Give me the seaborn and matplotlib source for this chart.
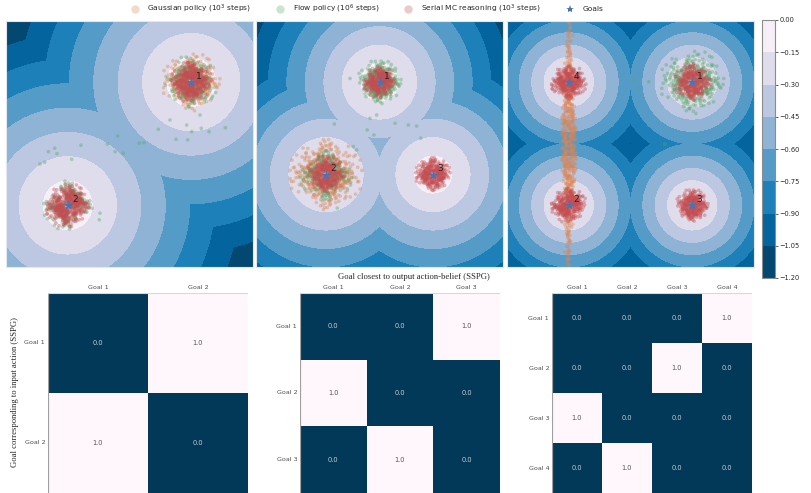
import numpy as np
import pandas as pd
import seaborn as sns
import matplotlib.pyplot as plt
from matplotlib.lines import Line2D

sns.set_theme(style="white")

# goals for the three environments (panel coords, -1..1)
goals_p1 = [(0.5, 0.5), (-0.5, -0.5)]
goals_p2 = [(0.0, 0.5), (-0.433, -0.25), (0.433, -0.25)]
goals_p3 = [(0.5, 0.5), (-0.5, -0.5), (0.5, -0.5), (-0.5, 0.5)]
value_scale = [0.76, 1.0, 1.5]
levels = [-1.20, -1.05, -0.90, -0.75, -0.60, -0.45, -0.30, -0.15, 0.00]

# hand-typed offset pattern used for the sample clouds
base_dx = [0.12, -0.85, 1.34, -0.41, 0.67, -1.52, 0.03, 0.95, -0.27, 1.81,
           -0.63, 0.44, -1.08, 0.21, -0.19, 1.12, -0.77, 0.58, -2.05, 0.36,
           -0.52, 1.47, -0.09, 0.81, -1.29, 0.29, -0.96, 0.73, 2.11, -0.34,
           0.05, -1.66, 0.91, -0.48, 1.26, -0.14, 0.62, -0.88, 0.17, -1.37,
           1.59, -0.23, 0.39, -0.71, 0.98, -1.91, 0.26, 0.84, -0.58, 1.03,
           -0.06, -1.17, 0.52, -0.31, 1.69, -0.92, 0.15, -0.44, 0.76, -1.45,
           2.32, -0.12, 0.47, -0.67, 1.21, -0.37, 0.08, -1.02, 0.69, -0.21,
           1.41, -0.81, 0.33, -1.58, 0.86, -0.03, 0.57, -1.24, 1.09, -0.55,
           0.24, -0.99, 1.73, -0.16, 0.41, -2.21, 0.64, -0.29, 1.17, -0.74,
           0.01, 1.38, -0.46, 0.79, -1.13, 0.19, -0.61, 1.95, -0.38, 0.49]
base_dy = [-0.33, 0.71, 0.18, -1.24, 0.92, -0.07, 1.55, -0.62, 0.39, -0.15,
           -1.81, 0.26, 0.84, -0.49, 1.19, -0.91, 0.05, -1.37, 0.47, 2.03,
           0.63, -0.28, -1.06, 0.14, 1.42, -0.72, 0.31, 0.97, -0.44, -1.63,
           1.88, 0.22, -0.09, 1.08, -1.15, 0.56, -0.38, -0.81, 2.27, 0.11,
           -0.52, -1.97, 0.68, 0.35, -0.23, 1.27, -1.41, 0.82, 0.02, -0.67,
           0.44, -0.18, -1.29, 1.61, 0.09, -0.55, -0.94, 0.73, 1.33, -0.36,
           0.27, -0.77, 1.02, -1.52, -0.12, 0.59, -2.14, 0.16, -0.86, 1.74,
           -0.41, 0.88, -0.04, 0.51, 1.47, -1.09, -0.26, 0.38, -0.69, 1.13,
           -1.71, 0.21, 0.66, -0.31, -1.18, 0.94, 0.13, 1.91, -0.58, -0.03,
           0.79, -0.47, 1.23, -1.33, 0.42, -0.84, 0.57, -0.21, 1.06, -0.95]

# clouds: (center x, center y, policy, spread x, spread y, pattern variants)
clouds_p1 = [(0.5, 0.5, "gauss", 0.10, 0.10, [0, 6, 3]),
             (0.5, 0.5, "flow", 0.09, 0.09, [2, 7]),
             (-0.5, -0.5, "flow", 0.085, 0.085, [1, 4]),
             (0.5, 0.5, "mc", 0.07, 0.07, [0, 5, 7, 1]),
             (-0.5, -0.5, "mc", 0.075, 0.075, [1, 6, 3, 4])]
clouds_p2 = [(-0.433, -0.25, "gauss", 0.125, 0.125, [0, 6, 2, 5]),
             (0.0, 0.5, "flow", 0.075, 0.075, [0, 7, 3]),
             (-0.433, -0.25, "flow", 0.09, 0.09, [2, 4]),
             (0.0, 0.5, "mc", 0.055, 0.055, [1, 6, 4]),
             (-0.433, -0.25, "mc", 0.065, 0.065, [0, 7, 3]),
             (0.433, -0.25, "mc", 0.06, 0.06, [0, 6, 5])]
clouds_p3 = [(-0.5, 0.0, "gauss", 0.026, 0.46, [0, 1, 2, 3, 4]),
             (0.5, 0.5, "flow", 0.11, 0.11, [0, 6, 3]),
             (0.5, 0.5, "mc", 0.065, 0.065, [0, 7, 4]),
             (-0.5, -0.5, "mc", 0.06, 0.06, [1, 6, 5]),
             (0.5, -0.5, "mc", 0.055, 0.055, [0, 7, 3]),
             (-0.5, 0.5, "mc", 0.06, 0.06, [2, 6, 4])]

# flow samples that landed between goals
strays_p1_x = [-0.096, 0.079, 0.117, -0.180, -0.117, -0.050, -0.393, -0.587, -0.606, -0.687,
               -0.725, 0.328, 0.233, 0.377, 0.471, 0.504, 0.581, 0.644, 0.776, 0.571,
               0.463, -0.657, -0.468, -0.239, -0.245]
strays_p1_y = [0.063, 0.004, 0.009, -0.002, -0.064, -0.077, -0.012, -0.080, -0.036, -0.150,
               -0.164, 0.193, 0.117, 0.036, 0.031, 0.098, 0.126, 0.098, 0.130, 0.233,
               0.152, -0.064, -0.126, -0.563, -0.617]
strays_p2_x = [-0.366, -0.099, -0.045, 0.126, 0.233, 0.301, 0.334, -0.342, -0.077, -0.023,
               -0.239, -0.212, -0.185]
strays_p2_y = [0.160, 0.112, 0.071, 0.166, 0.152, 0.144, 0.045, -0.522, 0.206, 0.233,
               0.530, -0.023, -0.050]
strays_p3_x = [0.027, 0.054, 0.278, 0.148]
strays_p3_y = [0.517, 0.449, -0.002, 0.503]

# heatmaps: goal of input action vs goal closest to output
hm_2 = [[0.0, 1.0], [1.0, 0.0]]
hm_3 = [[0.0, 0.0, 1.0], [1.0, 0.0, 0.0], [0.0, 1.0, 0.0]]
hm_4 = [[0.0, 0.0, 0.0, 1.0], [0.0, 0.0, 1.0, 0.0], [1.0, 0.0, 0.0, 0.0], [0.0, 1.0, 0.0, 0.0]]

colors = {"gauss": "#dd8452", "flow": "#55a868", "mc": "#c44e52"}
star_color = "#4c72b0"
W, H = 811, 493

fig = plt.figure(figsize=(W / 100, H / 100), dpi=100)


def px_axes(x0, y0, x1, y1):
    return fig.add_axes([x0 / W, 1 - y1 / H, (x1 - x0) / W, (y1 - y0) / H])


def cloud_frame(clouds, sx_list, sy_list):
    rows = []
    dx = np.array(base_dx)
    dy = np.array(base_dy)
    r = np.sqrt(0.5)
    variants = {0: (dx, dy), 1: (-dy, dx), 2: (-dx, -dy), 3: (dy, -dx),
                4: (dx, -dy), 5: (-dx, dy),
                6: (r * (dx - dy), r * (dx + dy)), 7: (r * (dx + dy), r * (dy - dx))}
    for cx, cy, pol, sx, sy, vs in clouds:
        for v in vs:
            ox, oy = variants[v]
            rows.append(pd.DataFrame({"x": cx + sx * ox, "y": cy + sy * oy, "policy": pol}))
    rows.append(pd.DataFrame({"x": sx_list, "y": sy_list, "policy": "flow"}))
    df = pd.concat(rows, ignore_index=True)
    order = {"gauss": 0, "flow": 1, "mc": 2}
    df["o"] = df["policy"].map(order)
    return df.sort_values("o", kind="stable")


panels = [(6, goals_p1, clouds_p1, strays_p1_x, strays_p1_y),
          (256, goals_p2, clouds_p2, strays_p2_x, strays_p2_y),
          (507, goals_p3, clouds_p3, strays_p3_x, strays_p3_y)]

grid = np.linspace(-1, 1, 500)
gx, gy = np.meshgrid(grid, grid)
cs = None
for i, (left, goals, clouds, stx, sty) in enumerate(panels):
    ax = px_axes(left, 20.5, left + 247, 267)
    dist = np.min([np.hypot(gx - g[0], gy - g[1]) for g in goals], axis=0)
    z = np.maximum(-value_scale[i] * dist, -1.1999)
    cs = ax.contourf(gx, gy, z, levels=levels, cmap="PuBu_r")
    df = cloud_frame(clouds, stx, sty)
    sns.scatterplot(data=df, x="x", y="y", hue="policy", palette=colors, s=7,
                    alpha=0.4, linewidth=0, legend=False, ax=ax)
    gxs = [g[0] for g in goals]
    gys = [g[1] for g in goals]
    sns.scatterplot(x=gxs, y=gys, marker="*", s=60, color=star_color, linewidth=0, ax=ax)
    for k, (x, y) in enumerate(goals):
        ax.text(x + 0.035, y + 0.025, str(k + 1), fontsize=6.5, color="#222222")
    ax.set_xlim(-1, 1)
    ax.set_ylim(-1, 1)
    ax.set_xticks([])
    ax.set_yticks([])
    ax.set_xlabel("")
    ax.set_ylabel("")
    for sp in ax.spines.values():
        sp.set_color("#e4e6ee")
        sp.set_linewidth(0.8)

cax = px_axes(762, 20, 775, 278)
cb = fig.colorbar(cs, cax=cax)
cb.set_ticks(levels)
cax.tick_params(labelsize=4.8, length=2, width=0.5, colors=".15", pad=1)
cb.outline.set_edgecolor(".55")
cb.outline.set_linewidth(0.8)

handles = [Line2D([], [], marker="o", ls="", color=colors["gauss"], alpha=0.3, markersize=6,
                  markeredgewidth=0, label="Gaussian policy ($10^3$ steps)"),
           Line2D([], [], marker="o", ls="", color=colors["flow"], alpha=0.3, markersize=6,
                  markeredgewidth=0, label="Flow policy ($10^6$ steps)"),
           Line2D([], [], marker="o", ls="", color=colors["mc"], alpha=0.3, markersize=6,
                  markeredgewidth=0, label="Serial MC reasoning ($10^3$ steps)"),
           Line2D([], [], marker="*", ls="", color=star_color, markersize=6,
                  markeredgewidth=0, label="Goals")]
fig.legend(handles=handles, loc="center", bbox_to_anchor=(367 / W, 1 - 9 / H), ncol=4,
           frameon=False, fontsize=5.4, handletextpad=1.2, columnspacing=3.3, handlelength=1.0)

heatmaps = [(48, hm_2), (300, hm_3), (552, hm_4)]
for left, mat in heatmaps:
    ax = px_axes(left, 293, left + 200, 493)
    labels = ["Goal %d" % (j + 1) for j in range(len(mat))]
    sns.heatmap(mat, ax=ax, cmap="PuBu_r", vmin=0, vmax=1, annot=True, fmt=".1f", cbar=False,
                linewidths=0, xticklabels=labels, yticklabels=labels,
                annot_kws={"size": 4.8})
    ax.xaxis.tick_top()
    ax.tick_params(length=0, labelsize=4.6, colors=".3", pad=2)
    ax.set_yticklabels(labels, rotation=0)
    ax.set_xticklabels(labels, rotation=0)
    for t in ax.texts:
        t.set_color("#c9ced4" if t.get_text() == "0.0" else "#555555")
    ax.axvline(0, color="#a0a0a0", lw=1.6)
    ax.axhline(0, color="#d8d8d8", lw=0.8)

fig.text(414 / W, 1 - 277 / H, "Goal closest to output action-belief (SSPG)", ha="center",
         va="center", family="Liberation Serif", fontsize=6.2, color=".15")
fig.text(15 / W, 1 - 392 / H, "Goal corresponding to input action (SSPG)", ha="center",
         va="center", rotation=90, family="Liberation Serif", fontsize=6.2, color=".15")

fig.savefig("out.png", dpi=100)
